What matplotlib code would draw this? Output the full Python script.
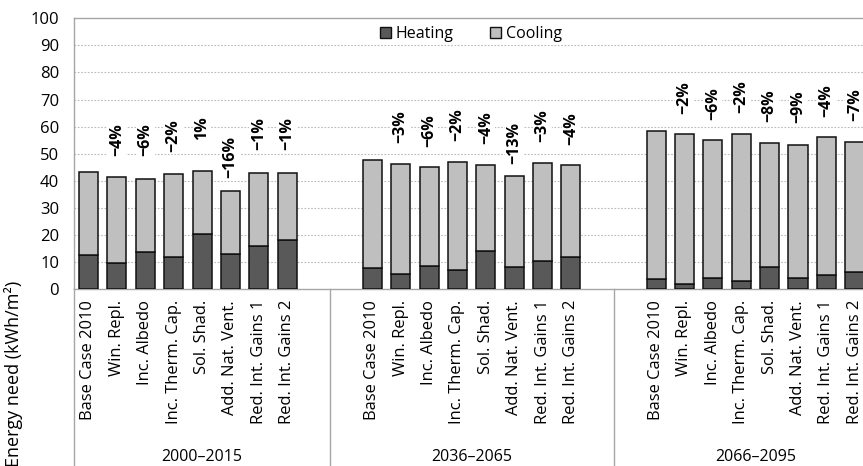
import matplotlib
matplotlib.use("Agg")
import matplotlib.pyplot as plt
from matplotlib.patches import Patch
import matplotlib.transforms as mtransforms

plt.rcParams['font.family'] = ['Open Sans', 'DejaVu Sans']

periods = ["2000\u20132015", "2036\u20132065", "2066\u20132095"]
measures = ["Base Case 2010", "Win. Repl.", "Inc. Albedo", "Inc. Therm. Cap.",
            "Sol. Shad.", "Add. Nat. Vent.", "Red. Int. Gains 1", "Red. Int. Gains 2"]

# total energy need per measure (kWh/m2)
total_2000 = [43.3, 41.5, 40.8, 42.5, 43.7, 36.2, 42.9, 42.9]
total_2036 = [47.8, 46.3, 45.0, 46.8, 45.9, 41.6, 46.5, 45.9]
total_2066 = [58.5, 57.2, 54.9, 57.4, 53.8, 53.3, 56.0, 54.4]

heating_2000 = [12.6, 9.5, 13.8, 11.9, 20.2, 12.9, 15.9, 18.1]
heating_2036 = [7.9, 5.4, 8.6, 7.0, 14.1, 8.2, 10.2, 11.9]
heating_2066 = [3.6, 1.8, 3.9, 3.0, 8.2, 3.9, 5.1, 6.4]

totals = [total_2000, total_2036, total_2066]
heatings = [heating_2000, heating_2036, heating_2066]

# vertical centre of each percentage label (axis units)
label_centres = [
    [55.2, 55.0, 56.5, 59.6, 48.6, 57.3, 57.3],
    [60.0, 58.4, 60.9, 59.6, 54.0, 60.3, 59.1],
    [70.7, 68.5, 71.0, 67.6, 67.2, 69.6, 68.2],
]

W, H = 863, 466
fig = plt.figure(figsize=(W / 100, H / 100), dpi=100)
slot = 28.38
left_px = 88.5 - slot / 2
ax = fig.add_axes([left_px / W, 177 / H, 29 * slot / W, 270.7 / H])

heat_col = "#595959"
cool_col = "#BFBFBF"
group_start = [0, 10, 20]

xs_all, names_all = [], []
for g in range(3):
    xs = [group_start[g] + i for i in range(len(measures))]
    heat = heatings[g]
    cool = [t - h for t, h in zip(totals[g], heat)]
    ax.bar(xs, heat, width=0.67, color=heat_col, edgecolor="#111111", linewidth=1.1, zorder=3)
    ax.bar(xs, cool, bottom=heat, width=0.67, color=cool_col, edgecolor="#111111",
           linewidth=1.1, zorder=3)
    base = totals[g][0]
    for i in range(1, len(measures)):
        pct = round((totals[g][i] / base - 1) * 100)
        txt = (f"\u2212{abs(pct)}%" if pct < 0 else f"{pct}%")
        ax.text(xs[i], label_centres[g][i - 1], txt, rotation=90, ha="center",
                va="center", fontsize=11.5, fontweight="bold", color="black",
                zorder=4, bbox=dict(facecolor="white", edgecolor="none", pad=1))
    xs_all += xs
    names_all += measures

ax.set_xlim(-0.5, 28.5)
ax.set_ylim(0, 100)
ax.set_yticks(range(0, 101, 10))
ax.tick_params(axis="y", length=0, pad=11, labelsize=12)
ax.set_xticks(xs_all)
ax.set_xticklabels(names_all, rotation=90, fontsize=11.9)
ax.tick_params(axis="x", length=0, pad=8)
for lab in ax.get_xticklabels():
    lab.set_va("top")

for y in range(10, 100, 10):
    ax.axhline(y, color="#BBBBBB", linewidth=0.8, linestyle=(0, (1.5, 1.5)), zorder=1)

for side in ["left", "top", "bottom", "right"]:
    ax.spines[side].set_color("#A6A6A6")
    ax.spines[side].set_linewidth(1.0)

# group separators below the axis
trans = mtransforms.blended_transform_factory(ax.transData, ax.transAxes)
for xsep in [-0.5, 8.5, 18.5]:
    ax.plot([xsep, xsep], [0, -0.7], transform=trans, color="#A6A6A6", linewidth=1.0,
            clip_on=False)
centres = [4, 13.5, 23.5]
for c, p in zip(centres, periods):
    ax.text(c, -(457 - 289) / 270.7, p, transform=trans, ha="center", va="center",
            fontsize=11.5)

fig.text(14 / W, 1 - 374 / H, "Energy need (kWh/m\u00b2)", rotation=90, ha="center",
         va="center", fontsize=13)

handles = [Patch(facecolor=heat_col, edgecolor="#111111", linewidth=1.0),
           Patch(facecolor=cool_col, edgecolor="#111111", linewidth=1.0)]
fig.legend(handles, ["Heating", "Cooling"], loc="center", ncol=2,
           bbox_to_anchor=(471 / W, 1 - 34 / H), frameon=False, fontsize=11.5,
           handlelength=0.7, handleheight=0.7, handletextpad=0.3, columnspacing=2.3)

fig.savefig("out.png", dpi=100)
